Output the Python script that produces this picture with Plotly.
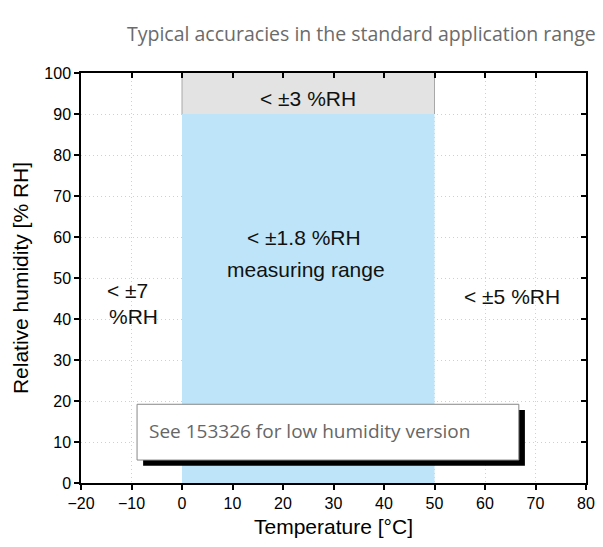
import plotly.graph_objects as go

# Data
x_ticks = [-20, -10, 0, 10, 20, 30, 40, 50, 60, 70, 80]
y_ticks = [0, 10, 20, 30, 40, 50, 60, 70, 80, 90, 100]
measuring_temp = [0, 50]          # °C range of the measuring region
measuring_rh = [0, 90]            # %RH range of ±1.8 region
upper_rh = [90, 100]              # %RH range of ±3 region
labels = ["< ±3 %RH", "< ±1.8 %RH", "measuring range", "< ±7", "%RH", "< ±5 %RH"]
label_x = [25, 24.2, 24.5, -15.2, -14.8, 65.3]
label_y = [93.8, 59.8, 52, 47, 40.5, 45.4]
note = "See 153326 for low humidity version"
title_text = "Typical accuracies in the standard application range"

BLUE = "#bde4f8"
GREY = "#e3e3e3"

fig = go.Figure()

def rect(xr, yr):
    return [xr[0], xr[1], xr[1], xr[0], xr[0]], [yr[0], yr[0], yr[1], yr[1], yr[0]]

bx, by = rect(measuring_temp, measuring_rh)
fig.add_trace(go.Scatter(x=bx, y=by, fill="toself", fillcolor=BLUE, mode="lines",
                         line=dict(width=0, color=BLUE), hoverinfo="skip", showlegend=False))
gx, gy = rect(measuring_temp, upper_rh)
fig.add_trace(go.Scatter(x=gx, y=gy, fill="toself", fillcolor=GREY, mode="lines",
                         line=dict(width=0, color=GREY), hoverinfo="skip", showlegend=False))
for xv in measuring_temp:
    fig.add_trace(go.Scatter(x=[xv, xv], y=upper_rh, mode="lines",
                             line=dict(width=1, color="#a8a8a8"), hoverinfo="skip", showlegend=False))

# invisible trace for mirrored axes
fig.add_trace(go.Scatter(x=[x_ticks[0]], y=[y_ticks[0]], xaxis="x2", yaxis="y2",
                         mode="markers", marker=dict(opacity=0), hoverinfo="skip", showlegend=False))

aligns = ["center", "center", "center", "left", "left", "center"]
for t, xv, yv, al in zip(labels, label_x, label_y, aligns):
    fig.add_annotation(x=xv, y=yv, text=t, showarrow=False,
                       xanchor="left" if al == "left" else "center",
                       font=dict(family="Liberation Sans, Arial", size=21, color="#111111"))

# note box with shadow
fig.add_shape(type="rect", xref="x", yref="y", x0=-7.7, x1=67.9, y0=4.2, y1=17.8,
              fillcolor="black", line=dict(width=0), layer="above")
fig.add_shape(type="rect", xref="x", yref="y", x0=-8.9, x1=66.7, y0=5.6, y1=19.2,
              fillcolor="white", line=dict(width=1, color="#888888"), layer="above")
fig.add_annotation(x=-7.0, y=12.7, text=note, showarrow=False, xanchor="left",
                   font=dict(family="Open Sans", size=19, color="#666666"))

# title as paper annotation
fig.add_annotation(x=1.0, y=1.0, xref="paper", yref="paper", text=title_text,
                   showarrow=False, xanchor="right", yanchor="middle", xshift=12, yshift=40,
                   font=dict(family="Open Sans", size=19.5, color="#6b6b6b"))

axis_common = dict(showline=True, linecolor="black", linewidth=1.5, ticklen=5, tickwidth=1.5,
                   tickcolor="black", zeroline=False, automargin=False)

fig.update_layout(
    width=595, height=539,
    margin=dict(l=73, r=17, t=65, b=64, autoexpand=False),
    plot_bgcolor="white", paper_bgcolor="white",
    xaxis=dict(range=[-20, 80], tickvals=x_ticks, ticks="outside",
               showgrid=True, gridcolor="#d0d0d0", griddash="1px,3px", gridwidth=1,
               title=dict(text="Temperature [°C]", font=dict(family="Liberation Sans, Arial", size=21, color="black"), standoff=8),
               tickfont=dict(family="Liberation Sans, Arial", size=16, color="black"), **axis_common),
    yaxis=dict(range=[0, 100], tickvals=y_ticks, ticks="outside",
               showgrid=True, gridcolor="#d0d0d0", griddash="1px,3px", gridwidth=1,
               title=dict(text="Relative humidity [% RH]", font=dict(family="Liberation Sans, Arial", size=21, color="black"), standoff=10),
               tickfont=dict(family="Liberation Sans, Arial", size=16, color="black"), **axis_common),
    xaxis2=dict(range=[-20, 80], tickvals=x_ticks, ticks="inside", overlaying="x", side="top",
                showticklabels=False, showgrid=False, **axis_common),
    yaxis2=dict(range=[0, 100], tickvals=y_ticks, ticks="inside", overlaying="y", side="right",
                showticklabels=False, showgrid=False, **axis_common),
)

fig.write_html("out.html")
